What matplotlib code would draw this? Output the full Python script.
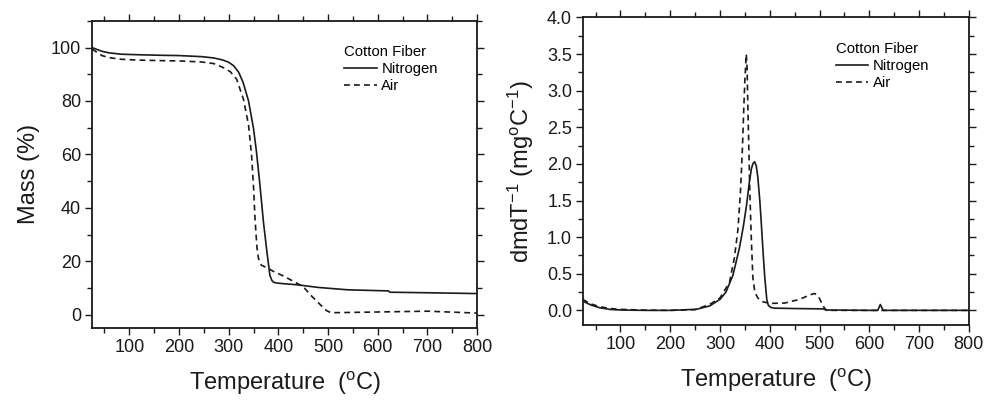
import matplotlib
matplotlib.use("Agg")
import matplotlib.pyplot as plt
from matplotlib.ticker import MultipleLocator, FormatStrFormatter

plt.rcParams['font.family'] = ['Liberation Sans', 'DejaVu Sans']
plt.rcParams['mathtext.fontset'] = 'custom'
plt.rcParams['mathtext.rm'] = 'Liberation Sans'
plt.rcParams['mathtext.it'] = 'Liberation Sans:italic'

# ---- TGA (mass %) data ----
tga_n2_T = [25, 35, 45, 60, 85, 120, 166, 200, 246, 270, 287, 300, 310, 320, 329, 340, 350, 356, 363, 370, 377, 383, 387, 390, 395, 410, 437, 480, 540, 600, 621, 625, 700, 799]
tga_n2_m = [100.0, 99.3, 98.6, 98.0, 97.5, 97.3, 97.1, 97.0, 96.6, 96.1, 95.4, 94.5, 93.2, 90.8, 87.0, 80.0, 69.7, 60.9, 48.4, 34.7, 23.5, 14.7, 12.8, 12.2, 11.9, 11.6, 11.2, 10.2, 9.3, 9.0, 8.9, 8.4, 8.2, 7.9]

tga_air_T = [25, 35, 45, 60, 85, 120, 166, 200, 246, 270, 287, 303, 316, 330, 340, 346, 350, 353, 357, 360, 366, 380, 390, 410, 437, 450, 464, 484, 497, 505, 515, 600, 700, 799]
tga_air_m = [99.5, 98.2, 97.0, 96.2, 95.6, 95.3, 95.1, 95.0, 94.6, 94.0, 92.7, 91.0, 88.2, 80.5, 71.0, 60.0, 48.0, 36.0, 25.0, 21.0, 18.5, 17.3, 16.2, 14.5, 11.8, 10.5, 7.5, 3.8, 1.5, 0.8, 0.75, 1.0, 1.3, 0.6]

# ---- DTG data ----
dtg_n2_T = [24, 40, 58, 80, 100, 150, 200, 252, 279, 300, 312, 326, 339, 347, 353, 359, 363, 366, 369.5, 373, 376, 380, 383, 387, 390, 394, 397, 402, 410, 450, 507, 513, 600, 617, 622, 628, 700, 800]
dtg_n2_v = [0.127, 0.075, 0.036, 0.012, 0.005, 0.0, 0.0, 0.014, 0.06, 0.15, 0.25, 0.48, 0.85, 1.15, 1.42, 1.75, 1.93, 2.0, 2.03, 1.97, 1.82, 1.5, 1.19, 0.75, 0.45, 0.15, 0.07, 0.04, 0.03, 0.025, 0.02, 0.005, 0.0, 0.0, 0.08, 0.0, 0.0, 0.0]

dtg_air_T = [24, 40, 58, 80, 100, 150, 200, 250, 279, 300, 319, 329, 336, 341, 345, 347.5, 350, 352.8, 354.5, 356, 358, 360, 363, 366, 370, 376, 385, 400, 430, 460, 480, 490, 497, 503, 508, 514, 600, 700, 800]
dtg_air_v = [0.15, 0.09, 0.05, 0.025, 0.014, 0.003, 0.0, 0.01, 0.08, 0.17, 0.38, 0.72, 1.1, 1.6, 2.2, 2.7, 3.15, 3.5, 3.3, 2.78, 2.2, 1.6, 0.97, 0.45, 0.25, 0.17, 0.12, 0.095, 0.1, 0.15, 0.21, 0.23, 0.2, 0.12, 0.05, 0.0, 0.0, 0.0, 0.0]

legend_title = "Cotton Fiber"
labels = ["Nitrogen", "Air"]

ink = '#1a1a1a'
fig = plt.figure(figsize=(9.85, 4.01), dpi=100)
ax1 = fig.add_axes([0.0934, 0.182, 0.391, 0.766])
ax2 = fig.add_axes([0.592, 0.1895, 0.3916, 0.767])

def style(ax):
    for s in ax.spines.values():
        s.set_linewidth(1.3)
        s.set_color(ink)
    ax.tick_params(which='both', direction='out', top=True, right=True,
                   labeltop=False, labelright=False, colors=ink, width=1.0)
    ax.tick_params(which='major', length=5, labelsize=13, pad=3)
    ax.tick_params(which='minor', length=3.5)
    ax.set_xlim(25, 800)
    ax.xaxis.set_major_locator(MultipleLocator(100))
    ax.xaxis.set_minor_locator(MultipleLocator(50))
    ax.set_xlabel("Temperature  ($^{\\mathrm{o}}$C)", fontsize=17, labelpad=10, color=ink)

def legend(ax, l1, l2):
    return ax.legend([l1, l2], labels, title=legend_title, loc='upper left',
                     bbox_to_anchor=(0.655, 0.92), frameon=False, fontsize=10.7,
                     title_fontsize=10.7, handlelength=2.2, handletextpad=0.3,
                     labelspacing=0.2, borderpad=0, borderaxespad=0,
                     alignment='left')

l1, = ax1.plot(tga_n2_T, tga_n2_m, '-', color=ink, lw=1.2)
l2, = ax1.plot(tga_air_T, tga_air_m, '--', color=ink, lw=1.2, dashes=(3.5, 2.5))
style(ax1)
ax1.set_ylim(-5, 110)
ax1.yaxis.set_major_locator(MultipleLocator(20))
ax1.yaxis.set_minor_locator(MultipleLocator(10))
ax1.set_ylabel("Mass (%)", fontsize=17, labelpad=8, color=ink)
legend(ax1, l1, l2)

m1, = ax2.plot(dtg_n2_T, dtg_n2_v, '-', color=ink, lw=1.2)
m2, = ax2.plot(dtg_air_T, dtg_air_v, '--', color=ink, lw=1.2, dashes=(3.5, 2.5))
style(ax2)
ax2.set_ylim(-0.2, 4.0)
ax2.yaxis.set_major_locator(MultipleLocator(0.5))
ax2.yaxis.set_minor_locator(MultipleLocator(0.25))
ax2.yaxis.set_major_formatter(FormatStrFormatter('%.1f'))
ax2.set_ylabel("dmdT$^{\\mathrm{-1}}$ (mg$^{\\mathrm{o}}$C$^{\\mathrm{-1}}$)", fontsize=17, labelpad=8, color=ink)
legend(ax2, m1, m2)

fig.savefig("out.png", dpi=100)
